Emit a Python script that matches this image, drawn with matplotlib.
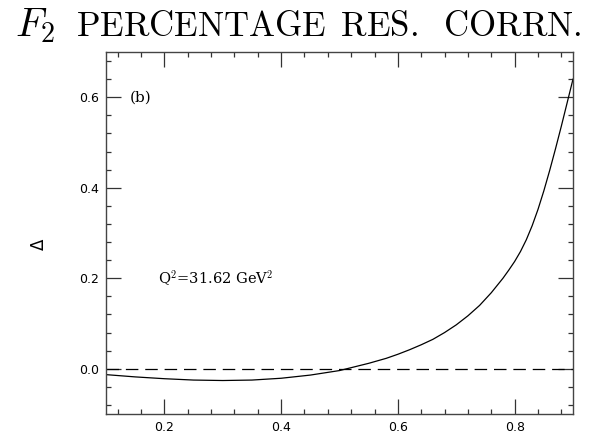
import matplotlib
matplotlib.use('Agg')
import matplotlib.pyplot as plt
import numpy as np
from matplotlib.ticker import MultipleLocator

plt.rcParams['mathtext.fontset'] = 'cm'

# Prozentuale Resonanzkorrektur zu F2 bei Q^2 = 31.62 GeV^2
x_vals = [0.10, 0.15, 0.20, 0.25, 0.30, 0.35, 0.40, 0.45, 0.50, 0.55,
          0.58, 0.60, 0.62, 0.64, 0.66, 0.68, 0.70, 0.72, 0.74, 0.76,
          0.78, 0.79, 0.80, 0.81, 0.82, 0.83, 0.84, 0.85, 0.86, 0.87,
          0.88, 0.89, 0.90]
delta = [-0.013, -0.018, -0.022, -0.025, -0.026, -0.025, -0.021, -0.014, -0.004, 0.012,
         0.023, 0.032, 0.042, 0.053, 0.065, 0.080, 0.097, 0.117, 0.140, 0.168,
         0.200, 0.218, 0.237, 0.259, 0.285, 0.316, 0.352, 0.393, 0.438, 0.486,
         0.536, 0.588, 0.640]

x_ticks = [0.2, 0.4, 0.6, 0.8]
y_ticks = [0.0, 0.2, 0.4, 0.6]

fig = plt.figure(figsize=(5.93, 4.38), dpi=100)
ax = fig.add_axes([106 / 593, 1 - 414 / 438, (573 - 106) / 593, (414 - 52) / 438])

ax.plot(x_vals, delta, color='black', lw=0.9)
ax.axhline(0.0, color='black', lw=0.9, dashes=(10, 5.5))

ax.set_xlim(0.1, 0.9)
ax.set_ylim(-0.1, 0.7)

# Achsenticks wie im Topdrawer-Stil: nach innen, auf allen Seiten
ax.xaxis.set_minor_locator(MultipleLocator(0.04))
ax.yaxis.set_minor_locator(MultipleLocator(0.04))
ax.set_xticks(x_ticks)
ax.set_yticks(y_ticks)
ax.set_xticklabels(['%.1f' % t for t in x_ticks])
ax.set_yticklabels(['%.1f' % t for t in y_ticks])
ax.tick_params(which='both', direction='in', top=True, right=True, width=0.9,
               color='#333333', labelsize=9)
ax.tick_params(which='major', length=11, pad=5)
ax.tick_params(which='minor', length=3.8)
for s in ax.spines.values():
    s.set_linewidth(1.0)
    s.set_color('#444444')

ax.set_ylabel('Δ', fontsize=12, family='DejaVu Sans')
ax.yaxis.set_label_coords(-0.125, 0.47)

ax.text(0.141, 0.6, '(b)', fontsize=11, family='DejaVu Serif', va='center')
ax.text(0.189, 0.2, 'Q$^2$=31.62 GeV$^2$', fontsize=10.5, family='DejaVu Serif', va='center')

# Diagrammtitel
fig.text(15 / 593, 1 - 36 / 438, r'$F_2$', fontsize=29, va='baseline')
fig.text(76 / 593, 1 - 36 / 438, r'$\mathrm{PERCENTAGE\ \,RES.\ \;CORRN.}$',
         fontsize=25, va='baseline')

fig.savefig('out.png', dpi=100)
